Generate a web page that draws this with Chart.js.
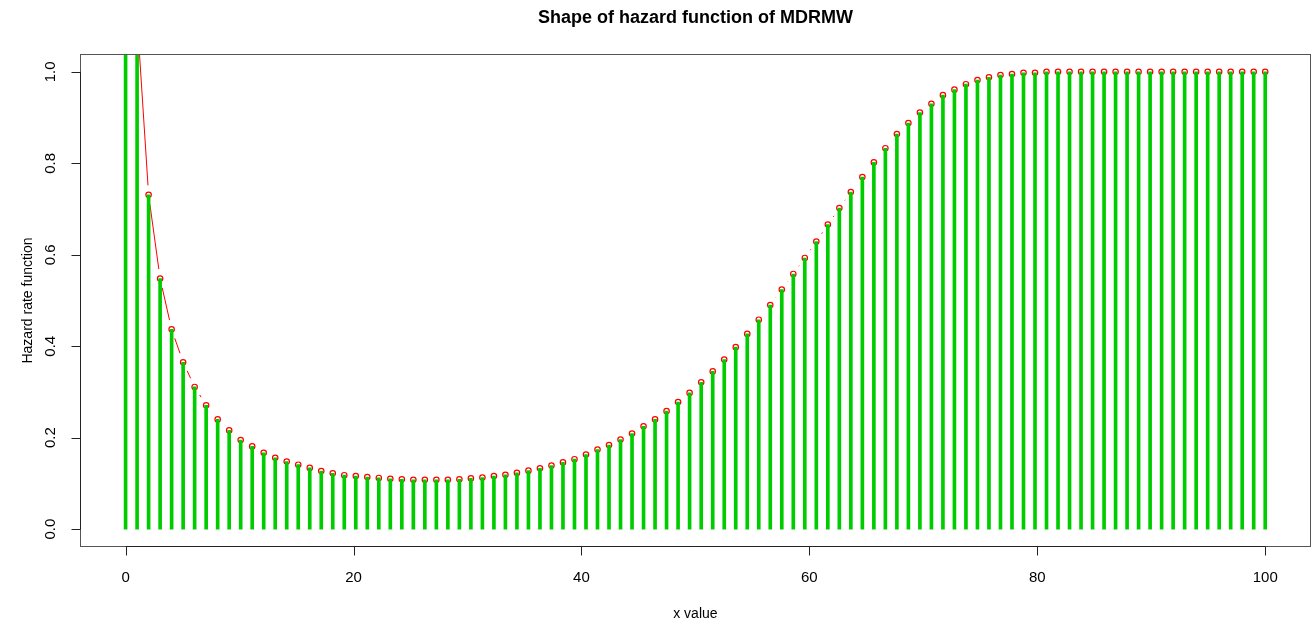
<!DOCTYPE html>
<html>
<head>
<meta charset="utf-8">
<script src="https://cdn.jsdelivr.net/npm/chart.js@4.4.0/dist/chart.umd.min.js"></script>
<style>
  html, body { margin: 0; padding: 0; background: #fff; }
  #wrap { width: 1316px; height: 626px; }
</style>
</head>
<body>
<div id="wrap"><canvas id="chart" width="1316" height="626"></canvas></div>
<script>
// x grid used in the plot (100 points from 0 to 100)
const xValues = [
  0, 1.01, 2.02, 3.03, 4.04, 5.05, 6.06, 7.07, 8.08, 9.09,
  10.10, 11.11, 12.12, 13.13, 14.14, 15.15, 16.16, 17.17, 18.18, 19.19,
  20.20, 21.21, 22.22, 23.23, 24.24, 25.25, 26.26, 27.27, 28.28, 29.29,
  30.30, 31.31, 32.32, 33.33, 34.34, 35.35, 36.36, 37.37, 38.38, 39.39,
  40.40, 41.41, 42.42, 43.43, 44.44, 45.45, 46.46, 47.47, 48.48, 49.49,
  50.51, 51.52, 52.53, 53.54, 54.55, 55.56, 56.57, 57.58, 58.59, 59.60,
  60.61, 61.62, 62.63, 63.64, 64.65, 65.66, 66.67, 67.68, 68.69, 69.70,
  70.71, 71.72, 72.73, 73.74, 74.75, 75.76, 76.77, 77.78, 78.79, 79.80,
  80.81, 81.82, 82.83, 83.84, 84.85, 85.86, 86.87, 87.88, 88.89, 89.90,
  90.91, 91.92, 92.93, 93.94, 94.95, 95.96, 96.97, 97.98, 98.99, 100
];

// hazard rate
const hazard = [
  3.0, 1.12, 0.731, 0.548, 0.437, 0.365, 0.311, 0.271, 0.240, 0.216,
  0.195, 0.181, 0.167, 0.156, 0.148, 0.141, 0.134, 0.127, 0.122, 0.118,
  0.116, 0.114, 0.112, 0.110, 0.109, 0.108, 0.108, 0.108, 0.108, 0.109,
  0.111, 0.113, 0.116, 0.119, 0.123, 0.128, 0.133, 0.139, 0.146, 0.153,
  0.163, 0.174, 0.184, 0.196, 0.209, 0.225, 0.240, 0.258, 0.278, 0.298,
  0.321, 0.345, 0.371, 0.398, 0.427, 0.458, 0.490, 0.524, 0.558, 0.593,
  0.629, 0.666, 0.702, 0.737, 0.770, 0.802, 0.833, 0.864, 0.888, 0.911,
  0.930, 0.949, 0.961, 0.973, 0.982, 0.988, 0.993, 0.995, 0.998, 0.998,
  1.0, 1.0, 1.0, 1.0, 1.0, 1.0, 1.0, 1.0, 1.0, 1.0,
  1.0, 1.0, 1.0, 1.0, 1.0, 1.0, 1.0, 1.0, 1.0, 1.0
];

const xTicks = [0, 20, 40, 60, 80, 100];
const yTicks = [0, 0.2, 0.4, 0.6, 0.8, 1.0];
const yTickLabels = ['0.0', '0.2', '0.4', '0.6', '0.8', '1.0'];

const titleText = 'Shape of hazard function of MDRMW';
const xTitle = 'x value';
const yTitle = 'Hazard rate function';

const points = xValues.map((x, i) => ({ x: x, y: hazard[i] }));

const FONT = '"Liberation Sans", Arial, Helvetica, sans-serif';

// R type="b" style line: segments between points with a gap around each point
const gappedLine = {
  id: 'gappedLine',
  beforeDatasetsDraw(chart) {
    const meta = chart.getDatasetMeta(1);
    const area = chart.chartArea;
    const ctx = chart.ctx;
    const gap = 9.5;
    ctx.save();
    ctx.beginPath();
    ctx.rect(area.left, area.top, area.right - area.left, area.bottom - area.top);
    ctx.clip();
    ctx.strokeStyle = '#ff0000';
    ctx.lineWidth = 1;
    ctx.beginPath();
    for (let i = 0; i < meta.data.length - 1; i++) {
      const a = meta.data[i], b = meta.data[i + 1];
      const dx = b.x - a.x, dy = b.y - a.y;
      const d = Math.sqrt(dx * dx + dy * dy);
      if (d <= 2 * gap) continue;
      const ux = dx / d, uy = dy / d;
      ctx.moveTo(a.x + ux * gap, a.y + uy * gap);
      ctx.lineTo(b.x - ux * gap, b.y - uy * gap);
    }
    ctx.stroke();
    ctx.restore();
  }
};

// box, axes, tick labels and titles in the R base-graphics look
const rFrame = {
  id: 'rFrame',
  afterDraw(chart) {
    const ctx = chart.ctx;
    const { left, right, top, bottom } = chart.chartArea;
    const xs = chart.scales.x, ys = chart.scales.y;
    const tick = 9;
    ctx.save();

    // box
    ctx.strokeStyle = '#555';
    ctx.lineWidth = 1;
    ctx.strokeRect(Math.round(left) + 0.5, Math.round(top) + 0.5,
      Math.round(right - left) - 1, Math.round(bottom - top) - 1);

    ctx.strokeStyle = '#222';
    ctx.fillStyle = '#000';

    // x axis
    const by = Math.round(bottom) - 0.5;
    ctx.beginPath();
    ctx.moveTo(xs.getPixelForValue(xTicks[0]), by);
    ctx.lineTo(xs.getPixelForValue(xTicks[xTicks.length - 1]), by);
    xTicks.forEach(t => {
      const px = Math.round(xs.getPixelForValue(t)) + 0.5;
      ctx.moveTo(px, by);
      ctx.lineTo(px, by + tick);
    });
    ctx.stroke();
    ctx.font = '15px ' + FONT;
    ctx.textAlign = 'center';
    ctx.textBaseline = 'middle';
    xTicks.forEach(t => ctx.fillText(String(t), xs.getPixelForValue(t), 578));

    // y axis
    const lx = Math.round(left) + 0.5;
    ctx.beginPath();
    ctx.moveTo(lx, ys.getPixelForValue(yTicks[0]));
    ctx.lineTo(lx, ys.getPixelForValue(yTicks[yTicks.length - 1]));
    yTicks.forEach(t => {
      const py = Math.round(ys.getPixelForValue(t)) + 0.5;
      ctx.moveTo(lx, py);
      ctx.lineTo(lx - tick, py);
    });
    ctx.stroke();
    yTicks.forEach((t, i) => {
      ctx.save();
      ctx.translate(51, ys.getPixelForValue(t));
      ctx.rotate(-Math.PI / 2);
      ctx.fillText(yTickLabels[i], 0, 0);
      ctx.restore();
    });

    // axis titles
    ctx.font = '14px ' + FONT;
    ctx.fillText(xTitle, (left + right) / 2, 614);
    ctx.save();
    ctx.translate(28, (top + bottom) / 2);
    ctx.rotate(-Math.PI / 2);
    ctx.fillText(yTitle, 0, 0);
    ctx.restore();

    // main title
    ctx.font = 'bold 18px ' + FONT;
    ctx.fillText(titleText, (left + right) / 2, 18);
    ctx.restore();
  }
};

new Chart(document.getElementById('chart').getContext('2d'), {
  type: 'bar',
  data: {
    datasets: [
      {
        type: 'bar',
        data: points,
        backgroundColor: '#00cd00',
        barThickness: 3,
        order: 0
      },
      {
        type: 'scatter',
        data: points,
        showLine: false,
        pointRadius: 2.7,
        pointBorderWidth: 1.2,
        pointBorderColor: '#ff0000',
        pointBackgroundColor: 'rgba(0,0,0,0)',
        order: 1
      }
    ]
  },
  options: {
    responsive: false,
    animation: false,
    layout: { padding: { left: 80, right: 2, top: 54, bottom: 79 } },
    plugins: { legend: { display: false }, tooltip: { enabled: false }, title: { display: false } },
    scales: {
      x: { type: 'linear', display: false, offset: false, min: -4, max: 104 },
      y: { type: 'linear', display: false, min: -0.039, max: 1.039 }
    }
  },
  plugins: [gappedLine, rFrame]
});
</script>
</body>
</html>
